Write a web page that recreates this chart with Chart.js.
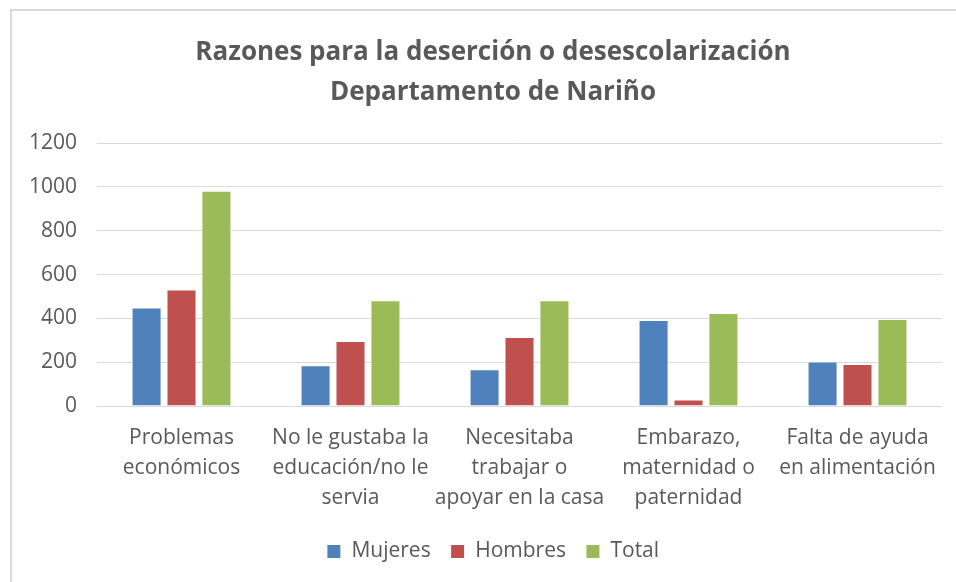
<!DOCTYPE html>
<html>
<head>
<meta charset="utf-8">
<script src="https://cdn.jsdelivr.net/npm/chart.js@4/dist/chart.umd.min.js"></script>
<style>
    html, body { margin: 0; padding: 0; background: #fff; }
    #wrap { position: relative; width: 956px; height: 582px; overflow: hidden; }
    #myChart { position: absolute; left: 0; top: 0; }
    #frame {
        position: absolute; left: 10px; top: 9px; width: 960px; height: 590px;
        border-top: 2px solid #d9d9d9; border-left: 2px solid #d9d9d9;
        pointer-events: none;
    }
</style>
</head>
<body>
<div id="wrap">
    <!-- the original chart runs a bit past the right edge of the picture -->
    <canvas id="myChart" width="986" height="582"></canvas>
    <div id="frame"></div>
</div>
<script>
const categories = [
    ["Problemas", "económicos"],
    ["No le gustaba la", "educación/no le", "servia"],
    ["Necesitaba", "trabajar o", "apoyar en la casa"],
    ["Embarazo,", "maternidad o", "paternidad"],
    ["Falta de ayuda", "en alimentación"]
];
const mujeres = [450, 186, 168, 392, 203];
const hombres = [532, 297, 315, 30, 192];
const total = [982, 483, 483, 425, 397];
const yTicks = [0, 200, 400, 600, 800, 1000, 1200];

function init() {
    const textColor = "#595959";
    const ctx = document.getElementById('myChart');

    const data = [
        { label: "Mujeres", data: mujeres, backgroundColor: "#4f81bd", borderColor: "#ffffff" },
        { label: "Hombres", data: hombres, backgroundColor: "#c0504d", borderColor: "#ffffff" },
        { label: "Total", data: total, backgroundColor: "#9bbb59", borderColor: "#ffffff" }
    ];
    data.forEach(d => {
        d.borderWidth = 1;
        d.categoryPercentage = 0.62;
        d.barPercentage = 0.86;
    });

    // y labels sit in the left padding, so let the scale box reach the edge
    // (otherwise chart.js clips them)
    const yLabelRoom = {
        id: 'yLabelRoom',
        afterLayout: chart => { chart.scales.y.left = 0; }
    };

    new Chart(ctx, {
        type: 'bar',
        data: {
            labels: categories,
            datasets: data,
        },
        plugins: [yLabelRoom],
        options: {
            responsive: false,
            animation: false,
            layout: {
                padding: { top: 12, right: 44, bottom: 10, left: 44 }
            },
            plugins: {
                title: {
                    display: true,
                    text: ["Razones para la deserción o desescolarización", "Departamento de Nariño"],
                    color: textColor,
                    font: { family: "Open Sans", size: 26, weight: "bold", lineHeight: 1.54 },
                    padding: { top: 21, bottom: 30 }
                },
                legend: {
                    position: 'bottom',
                    labels: {
                        color: textColor,
                        boxWidth: 14,
                        boxHeight: 14,
                        padding: 20,
                        font: { family: "Open Sans", size: 21 }
                    }
                },
                tooltip: { enabled: false }
            },
            scales: {
                x: {
                    grid: { display: false, drawTicks: false },
                    border: { display: false },
                    afterFit: scale => { scale.height = 115; },
                    ticks: {
                        color: textColor,
                        padding: 17,
                        maxRotation: 0,
                        autoSkip: false,
                        font: { family: "Open Sans", size: 21, lineHeight: 1.43 }
                    }
                },
                y: {
                    min: 0,
                    max: 1200,
                    afterBuildTicks: scale => {
                        scale.ticks = yTicks.map(v => ({ value: v }));
                    },
                    afterFit: scale => { scale.width = 53; },
                    grid: { color: "#d9d9d9", lineWidth: 1, drawTicks: false },
                    border: { display: false },
                    ticks: {
                        color: textColor,
                        padding: 20,
                        callback: v => String(v),
                        font: { family: "Open Sans", size: 21 }
                    }
                }
            }
        },
    });
}

window.onload = () => {
    init();
};
</script>
</body>
</html>
